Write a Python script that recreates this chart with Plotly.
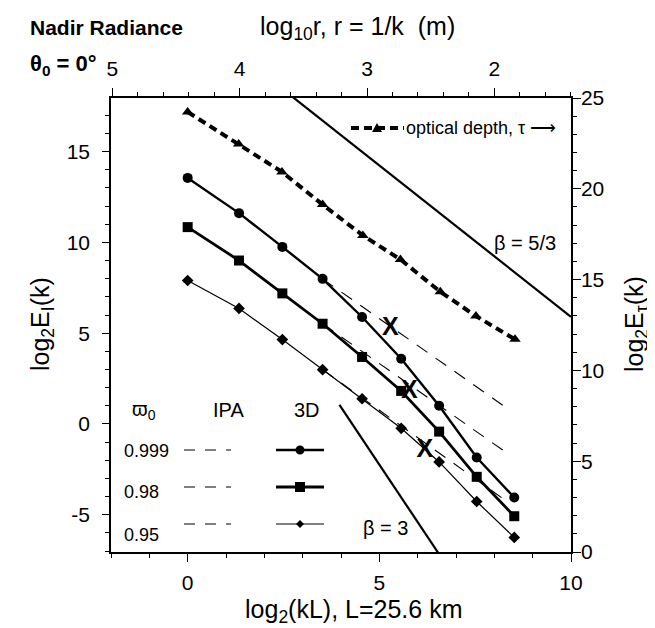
import plotly.graph_objects as go

# ---------------- data ----------------
# bottom axis: log2(kL)
x_pts = [0.0, 1.34, 2.47, 3.52, 4.55, 5.57, 6.56, 7.54, 8.52]
# 3D spectra, left axis log2 E_I(k)
E3d_999 = [13.55, 11.61, 9.75, 7.99, 5.89, 3.59, 1.00, -1.85, -4.05]
E3d_98 = [10.84, 9.00, 7.19, 5.52, 3.69, 1.82, -0.42, -2.91, -5.08]
E3d_95 = [7.90, 6.36, 4.65, 2.99, 1.39, -0.24, -2.09, -4.27, -6.25]
# optical depth spectrum, right axis log2 E_tau(k)
tau_x = [0.0, 1.33, 2.46, 3.52, 4.57, 5.55, 6.59, 7.52, 8.54]
tau_vals = [24.23, 22.47, 20.93, 19.13, 17.43, 16.11, 14.33, 12.99, 11.71]
# IPA spectra (dashed), where they differ from 3D
ipa_x = [3.52, 4.55, 5.57, 6.55, 7.54, 8.35]
ipa_999 = [7.99, 6.47, 4.96, 3.51, 2.04, 0.84]
ipa_98 = [5.52, 4.00, 2.49, 1.04, -0.43, -1.63]
ipa_95 = [2.99, 1.43, -0.11, -1.59, -3.08, -4.30]
# scale-break marks "X"
brk_x = [5.29, 5.78, 6.19]
brk_y = [5.24, 1.76, -1.48]
# reference power laws
beta53_x = [2.70, 10.0]
beta53_y = [18.07, 5.90]
beta3_x = [3.96, 6.60]
beta3_y = [1.05, -7.30]

# axes ticks
xb_ticks = [0, 5, 10]
xt_ticks = [5, 4, 3, 2]
yl_ticks = [-5, 0, 5, 10, 15]
yl_text = ["-5", "0", "5", "10", "15"]
yr_ticks = [0, 5, 10, 15, 20, 25]

# ---------------- layout geometry ----------------
W, H = 655, 628
ML, MR, MT, MB = 103, 92, 90, 84
PW, PH = W - ML - MR, H - MT - MB
FONT = "Liberation Sans, Arial, Helvetica, sans-serif"


def px(xp):
    return (xp - ML) / PW


def py(yp):
    return (H - MB - yp) / PH


fig = go.Figure()

# reference lines
fig.add_trace(go.Scatter(x=beta53_x, y=beta53_y, mode="lines",
                         line=dict(color="black", width=2.2), showlegend=False))
fig.add_trace(go.Scatter(x=beta3_x, y=beta3_y, mode="lines",
                         line=dict(color="black", width=2.2), showlegend=False))

# IPA dashed
for yy in (ipa_999, ipa_98, ipa_95):
    fig.add_trace(go.Scatter(x=ipa_x, y=yy, mode="lines",
                             line=dict(color="black", width=1.1, dash="13px,10px"),
                             showlegend=False))

# 3D series
fig.add_trace(go.Scatter(x=x_pts, y=E3d_999, mode="lines+markers",
                         line=dict(color="black", width=2.4),
                         marker=dict(symbol="circle", size=10, color="black"),
                         showlegend=False))
fig.add_trace(go.Scatter(x=x_pts, y=E3d_98, mode="lines+markers",
                         line=dict(color="black", width=2.8),
                         marker=dict(symbol="square", size=10, color="black"),
                         showlegend=False))
fig.add_trace(go.Scatter(x=x_pts, y=E3d_95, mode="lines+markers",
                         line=dict(color="black", width=1.2),
                         marker=dict(symbol="diamond", size=9, color="black"),
                         showlegend=False))

# optical depth on right axis
fig.add_trace(go.Scatter(x=tau_x, y=tau_vals, mode="lines+markers", yaxis="y2",
                         line=dict(color="black", width=4, dash="8px,5px"),
                         marker=dict(symbol="triangle-up", size=10, color="black"),
                         showlegend=False))

# X marks
fig.add_trace(go.Scatter(x=brk_x, y=brk_y, mode="text", text=["X"] * len(brk_x),
                         textfont=dict(family=FONT, size=25, color="black", weight="bold"),
                         textposition="middle center", showlegend=False))

# dummy (empty) trace so the top axis is drawn
fig.add_trace(go.Scatter(x=[None], y=[None], xaxis="x2", mode="lines", showlegend=False,
                         hoverinfo="skip"))

axcommon = dict(showline=True, linecolor="black", linewidth=1.5, showgrid=False,
                zeroline=False, ticks="outside", tickcolor="black", tickwidth=1.2,
                tickfont=dict(family=FONT, size=21, color="black"))

fig.update_layout(
    width=W, height=H,
    margin=dict(l=ML, r=MR, t=MT, b=MB),
    paper_bgcolor="white", plot_bgcolor="white",
    showlegend=False,
    xaxis=dict(range=[-2, 10], tickvals=xb_ticks, ticklen=8, ticklabelstandoff=3,
               minor=dict(dtick=1, tick0=0, ticklen=4, ticks="outside", tickcolor="black"),
               **axcommon),
    xaxis2=dict(range=[5.0104, 1.398], overlaying="x", side="top",
                tickvals=xt_ticks, ticklen=8, ticklabelstandoff=4,
                minor=dict(dtick=0.2, tick0=0, ticklen=4, ticks="outside", tickcolor="black"),
                **axcommon),
    yaxis=dict(range=[-7.05, 17.95], tickvals=yl_ticks, ticktext=yl_text, ticklen=7,
               ticklabelstandoff=8,
               minor=dict(dtick=1, tick0=0, ticklen=4, ticks="outside", tickcolor="black"),
               **axcommon),
    yaxis2=dict(range=[0, 25], overlaying="y", side="right", tickvals=yr_ticks, ticklen=8,
                ticklabelstandoff=-4,
                minor=dict(dtick=1, tick0=0, ticklen=4, ticks="outside", tickcolor="black"),
                **axcommon),
)

ann = []


def text(xp, yp, s, size=18, bold=False, xanchor="center", angle=0):
    ann.append(dict(xref="paper", yref="paper", x=px(xp), y=py(yp), text=s,
                    showarrow=False, xanchor=xanchor, yanchor="middle", textangle=angle,
                    font=dict(family=FONT, size=size, color="black",
                              weight="bold" if bold else "normal")))


text(20, 20, "Nadir\u00a0Radiance", size=21, bold=True, xanchor="left")
text(20, 57, "θ<sub>0</sub> = 0°", size=22, bold=True, xanchor="left")
text(349, 20, "log<sub>10</sub>r, r = 1/k\u00a0\u00a0(m)", size=25)
text(346, 603, "log<sub>2</sub>(kL), L=25.6 km", size=25)
text(34, 316, "log<sub>2</sub>E<sub>I</sub>(k)", size=25, angle=-90)
text(628, 316, "log<sub>2</sub>E<sub>τ</sub>(k)", size=25, angle=-90)
text(550, 235, "β = 5/3", size=20, xanchor="right")
text(377, 520, "β = 3", size=20)
text(396, 120, "optical depth, τ ⟶", size=18, xanchor="left")
# legend table
text(122, 403, "ϖ<sub>0</sub>", size=20, xanchor="left")
text(220, 402, "IPA", size=20)
text(299, 402, "3D", size=20)
text(114, 443, "0.999", size=18, xanchor="left")
text(114, 484, "0.98", size=18, xanchor="left")
text(114, 527, "0.95", size=18, xanchor="left")

shapes = []
# optical depth legend sample
shapes.append(dict(type="line", xref="paper", yref="paper", x0=px(343), x1=px(396),
                   y0=py(120), y1=py(120), line=dict(color="black", width=4, dash="8px,5px")))
shapes.append(dict(type="path", xref="paper", yref="paper", xsizemode="pixel", ysizemode="pixel",
                   xanchor=px(369), yanchor=py(120), path="M -5 -4 L 5 -4 L 0 5 Z",
                   fillcolor="black", line=dict(color="black", width=0)))
rows = [(442, 2.4, "circle"), (479, 2.8, "square"), (516, 1.2, "diamond")]
for yrow, lw, sym in rows:
    shapes.append(dict(type="line", xref="paper", yref="paper", x0=px(176), x1=px(223),
                       y0=py(yrow), y1=py(yrow),
                       line=dict(color="black", width=1.1, dash="11px,10px")))
    shapes.append(dict(type="line", xref="paper", yref="paper", x0=px(268), x1=px(316),
                       y0=py(yrow), y1=py(yrow), line=dict(color="black", width=lw)))
    if sym == "circle":
        shapes.append(dict(type="circle", xref="paper", yref="paper", xsizemode="pixel",
                           ysizemode="pixel", xanchor=px(292), yanchor=py(yrow),
                           x0=-4.5, x1=4.5, y0=-4.5, y1=4.5, fillcolor="black",
                           line=dict(color="black", width=0)))
    elif sym == "square":
        shapes.append(dict(type="rect", xref="paper", yref="paper", xsizemode="pixel",
                           ysizemode="pixel", xanchor=px(292), yanchor=py(yrow),
                           x0=-5, x1=5, y0=-5, y1=5, fillcolor="black",
                           line=dict(color="black", width=0)))
    else:
        shapes.append(dict(type="path", xref="paper", yref="paper", xsizemode="pixel",
                           ysizemode="pixel", xanchor=px(292), yanchor=py(yrow),
                           path="M -4 0 L 0 4 L 4 0 L 0 -4 Z", fillcolor="black",
                           line=dict(color="black", width=0)))

fig.update_layout(annotations=ann, shapes=shapes)
fig.write_html("out.html")
